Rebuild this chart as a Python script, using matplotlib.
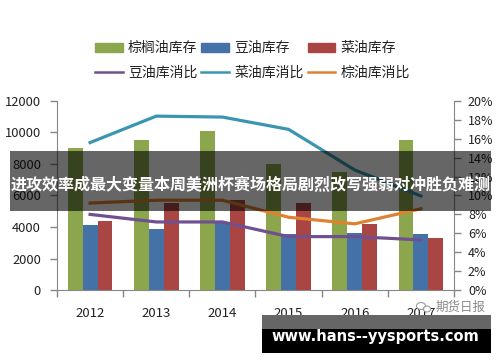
import matplotlib
matplotlib.use("Agg")
import matplotlib.pyplot as plt
from matplotlib.patches import Rectangle, Patch, Ellipse
from matplotlib.lines import Line2D
import numpy as np

plt.rcParams['font.family'] = ['Noto Sans CJK SC', 'DejaVu Sans']

years = ['2012', '2013', '2014', '2015', '2016', '2017']
palm_stock = [9000, 9550, 10100, 8000, 7500, 9550]
soy_stock = [4150, 3880, 4300, 3550, 3600, 3530]
rape_stock = [4400, 5500, 5700, 5500, 4200, 3330]
soy_ratio = [8.0, 7.2, 7.2, 5.65, 5.65, 5.3]
rape_ratio = [15.6, 18.4, 18.3, 17.0, 12.7, 9.95]
palm_ratio = [9.2, 9.5, 9.5, 7.7, 7.0, 8.6]
left_ticks = [0, 2000, 4000, 6000, 8000, 10000, 12000]
right_ticks = [0, 2, 4, 6, 8, 10, 12, 14, 16, 18, 20]
banner_title = '进攻效率成最大变量本周美洲杯赛场格局剧烈改写强弱对冲胜负难测'
site_text = 'www.hans--yysports.com'
mark_text = '期货日报'

GREEN, BLUE, RED = '#8BA64C', '#4472A6', '#A94644'
PURPLE, TEAL, ORANGE = '#70508F', '#3A96B0', '#DE8232'
AXIS = '#868686'
W, H = 500, 362

fig = plt.figure(figsize=(W / 100, H / 100), dpi=100, facecolor='white')
ax = fig.add_axes([57 / W, 1 - 290 / H, 397 / W, 189 / H])
x = np.arange(len(years))
bw = 0.225
ax.bar(x - bw, palm_stock, bw, color=GREEN, zorder=2)
ax.bar(x, soy_stock, bw, color=BLUE, zorder=2)
ax.bar(x + bw, rape_stock, bw, color=RED, zorder=2)
ax.set_xlim(-0.5, 5.5)
ax.set_ylim(0, 12000)
ax.set_yticks(left_ticks)
ax.set_xticks(np.arange(-0.5, 6, 1))
ax.set_xticklabels([])
ax.set_xticks(x, minor=True)
ax.set_xticklabels(years, minor=True, fontsize=9.5, color='#222222')
ax.tick_params(axis='x', which='major', length=5, color=AXIS, width=1)
ax.tick_params(axis='x', which='minor', length=0, pad=12.5)
ax.tick_params(axis='y', length=5, color=AXIS, width=1, labelsize=9.3,
               labelcolor='#222222', pad=6.5)
for s in ['top', 'right']:
    ax.spines[s].set_visible(False)
for s in ['left', 'bottom']:
    ax.spines[s].set_color(AXIS)

ax2 = ax.twinx()
ax2.set_ylim(0, 20)
ax2.plot(x, soy_ratio, color=PURPLE, lw=2.3, zorder=3)
ax2.plot(x, rape_ratio, color=TEAL, lw=2.3, zorder=3)
ax2.plot(x, palm_ratio, color=ORANGE, lw=2.3, zorder=3)
ax2.set_yticks(right_ticks)
ax2.set_yticklabels([f'{v}%' for v in right_ticks])
ax2.tick_params(axis='y', length=5, color=AXIS, width=1, labelsize=9,
                labelcolor='#222222', pad=5)
for s in ['top', 'left', 'bottom']:
    ax2.spines[s].set_visible(False)
ax2.spines['right'].set_color(AXIS)

handles = [Patch(color=GREEN), Line2D([], [], color=PURPLE, lw=1.8),
           Patch(color=BLUE), Line2D([], [], color=TEAL, lw=1.8),
           Patch(color=RED), Line2D([], [], color=ORANGE, lw=1.8)]
labels = ['棕榈油库存', '豆油库消比', '豆油库存', '菜油库消比', '菜油库存', '棕油库消比']
fig.legend(handles, labels, ncol=3, frameon=False, fontsize=10,
           loc='center', bbox_to_anchor=(252.5 / W, 1 - 60.5 / H),
           handlelength=2.0, handleheight=0.6, handletextpad=0.35,
           columnspacing=0.3, labelspacing=0.78, labelcolor='#222222')

tf = fig.transFigure
def rect(x0, y0, x1, y1, **kw):
    fig.add_artist(Rectangle((x0 / W, 1 - y1 / H), (x1 - x0) / W, (y1 - y0) / H,
                             transform=tf, lw=0, **kw))

fig.text(461 / W, 1 - 307 / H, mark_text, fontsize=9, color='#8a8a8a',
         ha='center', va='center')
for cx, cy, ew, eh in [(421, 306, 9, 7), (427, 309, 7, 6)]:
    fig.add_artist(Ellipse((cx / W, 1 - cy / H), ew / W, eh / H, transform=tf,
                           fc='white', ec='#9a9a9a', lw=0.8))
rect(10, 151, 491, 211, color='black', alpha=0.6, zorder=5)
fig.text(250.5 / W, 1 - 185 / H, banner_title, fontsize=11.55, color='white',
         fontweight='bold', ha='center', va='center', zorder=6)
rect(262, 315, 491, 329, color='#666666', zorder=5)
rect(262, 329, 491, 353, color='black', zorder=5)
fig.text(375.5 / W, 1 - 337 / H, site_text, fontsize=10.5, color='white',
         fontweight='bold', family='DejaVu Sans', ha='center', va='center', zorder=6)

fig.savefig('out.png', dpi=100)
